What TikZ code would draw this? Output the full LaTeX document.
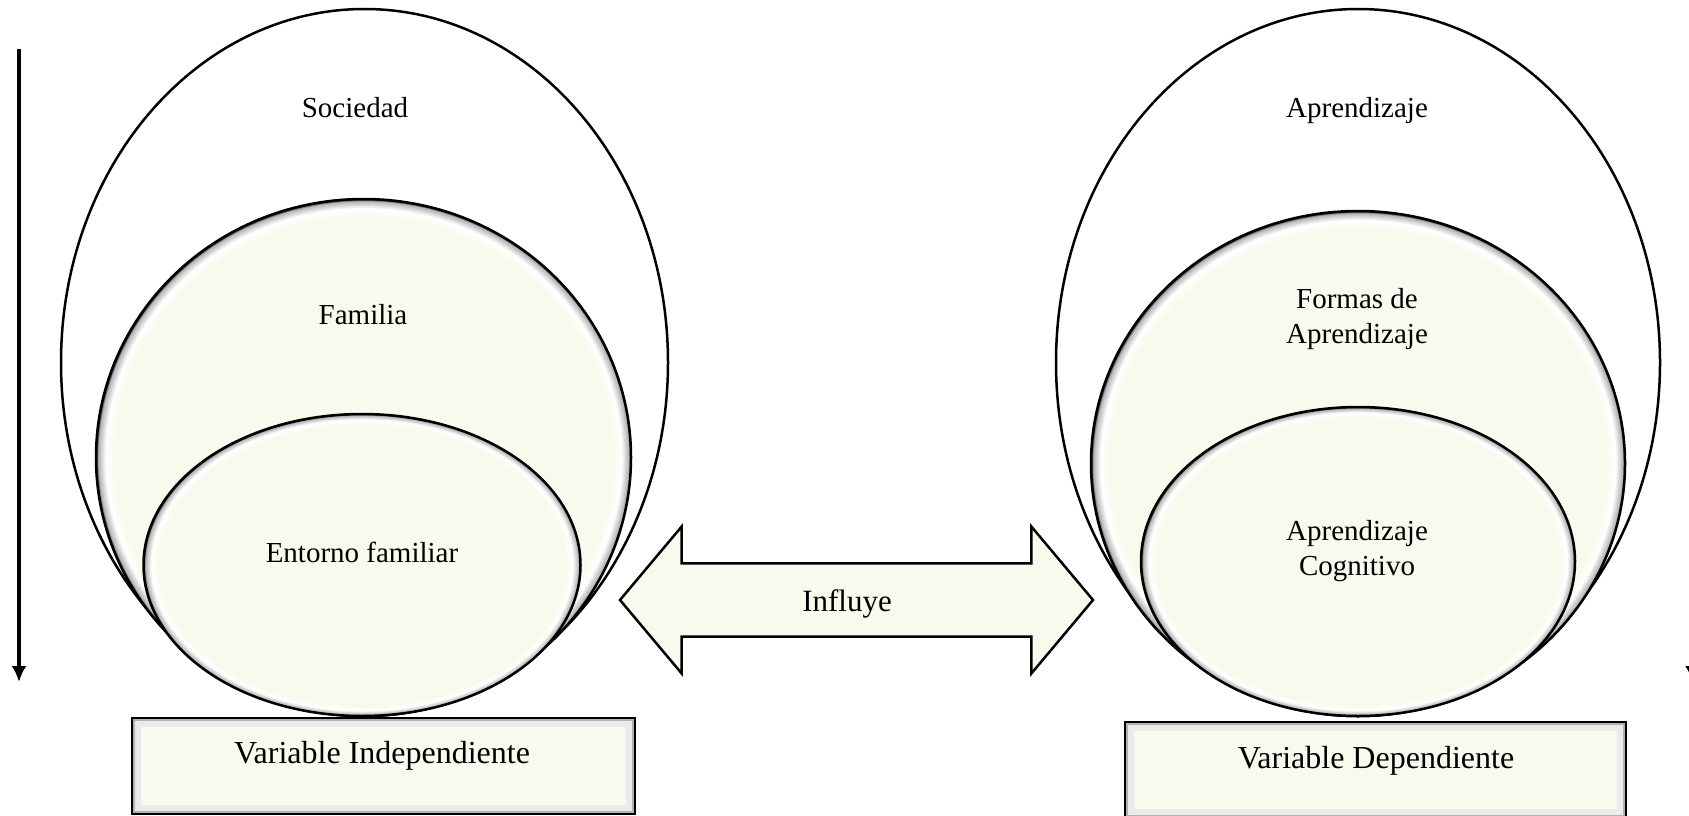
\documentclass[tikz,border=0pt]{standalone}
\usepackage{fontspec}
\setmainfont{Liberation Serif}
\usetikzlibrary{shapes.geometric, shapes.arrows, arrows.meta, positioning}

\definecolor{crema}{RGB}{250,249,238}
\colorlet{sombra}{black!30}
\pgfdeclareradialshading{bisel}{\pgfpoint{0bp}{0bp}}{color(0bp)=(crema); color(23.3bp)=(crema); color(24.1bp)=(white); color(24.8bp)=(sombra); color(25bp)=(black); color(50bp)=(black)}

\tikzset{
  grande/.style={ellipse, draw, line width=2.5pt, fill=white, inner sep=0pt},
  capa/.style={ellipse, draw, line width=2.5pt, shade, shading=bisel, inner sep=0pt},
  caja/.style={rectangle, draw, line width=2.5pt, fill=crema, inner sep=0pt,
    path picture={
      \draw[black!8, line width=18pt] (path picture bounding box.south west) rectangle (path picture bounding box.north east);
      \draw[black!30, line width=6pt] (path picture bounding box.south west) rectangle (path picture bounding box.north east);
    }},
  texto/.style={font=\fontsize{29}{35}\selectfont, align=center, inner sep=0pt},
  rotulo/.style={font=\fontsize{32}{38}\selectfont, inner sep=0pt},
  flecha/.style={double arrow, draw, line width=2.5pt, fill=crema, inner xsep=0pt, inner ysep=35pt,
    minimum height=473pt, minimum width=147pt,
    double arrow head extend=36.5pt, double arrow tip angle=100},
  eje/.style={line width=3.7pt, -{Latex[length=16pt,width=15pt]}}
}

\begin{document}
\begin{tikzpicture}[x=1pt, y=-1pt]
	\useasboundingbox (0,0) rectangle (1689,816);

	% variable independiente
	\node[grande, minimum width=607pt, minimum height=707pt] (sociedad) at (364.5, 362.5) {};
	\node[capa, minimum width=535pt, minimum height=517pt] (familia) at (363.5, 457.5) {};
	\node[capa, minimum width=437pt, minimum height=302pt] (entorno) at (362, 565) {};
	\node[texto] (tsociedad) at (355, 108) {Sociedad};
	\node[texto] (tfamilia) at (363, 315) {Familia};
	\node[texto] (tentorno) at (362, 552) {Entorno familiar};

	% variable dependiente
	\node[grande, minimum width=604pt, minimum height=707pt] (aprendizaje) at (1358, 362.5) {};
	\node[capa, minimum width=534pt, minimum height=505pt] (formas) at (1358, 463.5) {};
	\node[capa, minimum width=434pt, minimum height=309pt] (cognitivo) at (1358, 561.5) {};
	\node[texto] (taprendizaje) at (1357, 111) {Aprendizaje};
	\node[texto] (tformas) at (1357, 319) {Formas de\\Aprendizaje};
	\node[texto] (tcognitivo) at (1357, 551) {Aprendizaje\\Cognitivo};

	% cajas
	\node[caja, minimum width=503pt, minimum height=96pt] (vi) at (383.5, 766) {};
	\node[rotulo] (tvi) at (382, 756) {Variable Independiente};
	\node[caja, minimum width=501pt, minimum height=96pt] (vd) at (1375.5, 770) {};
	\node[rotulo] (tvd) at (1376, 761) {Variable Dependiente};

	% flecha doble
	\node[flecha] (influye) at (856.5, 600) {};
	\node[font=\fontsize{31}{37}\selectfont, inner sep=0pt] (tinfluye) at (847, 604) {Influye};

	% ejes verticales
	\coordinate (a1) at (19, 49);
	\coordinate (a2) at (19, 682);
	\coordinate (b1) at (1692.5, 49);
	\coordinate (b2) at (1692.5, 682);
	\draw[eje] (a1) -- (a2);
	\draw[eje] (b1) -- (b2);
\end{tikzpicture}
\end{document}
